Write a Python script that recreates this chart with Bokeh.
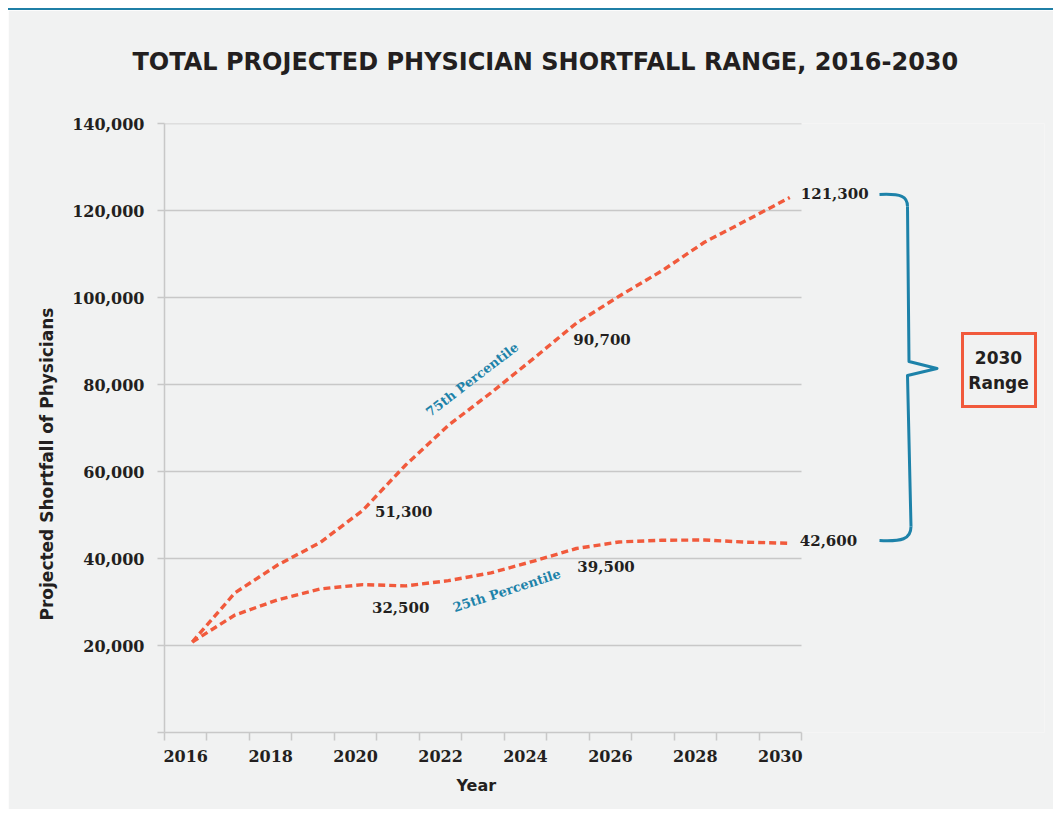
from bokeh.plotting import figure
from bokeh.models import Range1d, FixedTicker, NumeralTickFormatter, Title
from bokeh.embed import file_html
from bokeh.resources import INLINE
from bokeh.core.properties import value
import math

# ---------------- data ----------------
years = list(range(2016, 2031))
pct75 = [20800, 32100, 38500, 43700, 51100, 61500, 70600, 78100, 86000,
         94100, 100300, 106100, 112700, 117800, 123000]
pct25 = [20800, 27000, 30500, 33000, 34000, 33700, 34900, 36700, 39400,
         42300, 43800, 44200, 44250, 43750, 43500]
y_ticks = [0, 20000, 40000, 60000, 80000, 100000, 120000, 140000]
x_label_years = [2016, 2018, 2020, 2022, 2024, 2026, 2028, 2030]
callout_years = [2020, 2020, 2025, 2025, 2030, 2030]
callout_values = [51300, 32500, 90700, 39500, 121300, 42600]
TITLE = "TOTAL PROJECTED PHYSICIAN SHORTFALL RANGE, 2016-2030"
Y_TITLE = "Projected Shortfall of Physicians"
X_TITLE = "Year"

# ---------------- style ----------------
BG = "#f1f2f2"
RED = "#f15a3c"
BLUE = "#1d82a9"
INK = "#231f20"
GRID = "#c8c8c8"
SERIF = value("DejaVu Serif")
SANS = "DejaVu Sans"

W, H = 1045, 801
BL, BT, BR = 156, 113, 9
FRAME_W = W - BL - BR
FRAME_H = 609
BB = H - BT - FRAME_H
PAGE_LEFT, PAGE_TOP = 8, 10      # canvas origin on the page (margin + rule)
FRAME_LEFT_PX = PAGE_LEFT + BL
FRAME_BOTTOM_PX = PAGE_TOP + BT + FRAME_H

X0 = 2015.35
PX_PER_YEAR = 42.68
BAND = 0.995
Y_MAX = 140000


def dx(px):
    return X0 + (px - FRAME_LEFT_PX) / PX_PER_YEAR


def dy(py):
    return (FRAME_BOTTOM_PX - py) * Y_MAX / FRAME_H


p = figure(width=W, height=H, output_backend="svg", toolbar_location=None,
           x_range=Range1d(X0, X0 + FRAME_W / PX_PER_YEAR),
           y_range=Range1d(0, Y_MAX),
           min_border_left=BL, min_border_top=BT, min_border_right=BR,
           min_border_bottom=BB)
p.styles = {"margin-left": "8px", "margin-top": "8px",
            "border-top": "2px solid #1f7fa6"}
p.background_fill_color = BG
p.border_fill_color = BG
p.outline_line_color = None
p.xgrid.grid_line_color = None
p.ygrid.grid_line_color = None

# spacer between the plot area and the title
p.add_layout(Title(text=" ", text_font_size="1px", standoff=14), "above")

# title
p.title.text = TITLE
p.title.align = "left"
p.title.offset = -32
p.title.standoff = 60
p.title.vertical_align = "middle"
p.title.text_font = SANS
p.title.text_font_style = "bold"
p.title.text_font_size = "24px"
p.title.text_color = INK

# x axis: year bands
edges = [X0 + k * BAND for k in range(len(years) + 1)]
centers = [X0 + (y - years[0] + 0.5) * BAND for y in x_label_years]
xa = p.xaxis[0]
xa.ticker = FixedTicker(ticks=centers, minor_ticks=edges)
xa.formatter = NumeralTickFormatter(format="0")
xa.bounds = (edges[0], edges[-1])
xa.axis_line_color = GRID
xa.axis_line_width = 1.5
xa.major_tick_line_color = None
xa.major_tick_out = 0
xa.major_tick_in = 0
xa.minor_tick_line_color = GRID
xa.minor_tick_line_width = 1.5
xa.minor_tick_out = 8
xa.minor_tick_in = 0
xa.major_label_standoff = 9
xa.major_label_text_font = "DejaVu Serif"
xa.major_label_text_font_style = "bold"
xa.major_label_text_font_size = "16px"
xa.major_label_text_color = INK

# x title (as a title below, so it can sit under the year band area)
p.add_layout(Title(text=X_TITLE, align="left", offset=292, standoff=22,
                   vertical_align="top", text_font=SANS,
                   text_font_style="bold", text_font_size="16px",
                   text_color=INK), "below")

# y axis
ya = p.yaxis[0]
ya.ticker = FixedTicker(ticks=y_ticks)
ya.formatter = NumeralTickFormatter(format="0,0")
ya.major_label_overrides = {0: ""}
ya.bounds = (0, Y_MAX)
ya.axis_line_color = GRID
ya.axis_line_width = 1.5
ya.major_tick_line_color = GRID
ya.major_tick_line_width = 1.5
ya.major_tick_out = 7
ya.major_tick_in = 0
ya.minor_tick_line_color = None
ya.major_label_standoff = 13
ya.major_label_text_font = "DejaVu Serif"
ya.major_label_text_font_style = "bold"
ya.major_label_text_font_size = "16px"
ya.major_label_text_color = INK

# y title
p.add_layout(Title(text=Y_TITLE, align="left", offset=112, standoff=26,
                   vertical_align="bottom", text_font=SANS,
                   text_font_style="bold", text_font_size="17px",
                   text_color=INK), "left")

# grid lines limited to the chart area
grid_vals = [v for v in y_ticks if v > 0]
p.segment(x0=[edges[0]] * len(grid_vals), x1=[edges[-1]] * len(grid_vals),
          y0=grid_vals, y1=grid_vals, line_color=GRID, line_width=1.5)

# series
for series in (pct75, pct25):
    p.line(years, series, line_color=RED, line_width=3.4, line_dash="7 4",
           line_cap="butt", line_join="round")

# series names
p.text(x=[dx(471.7)], y=[dy(379)], text=["75th Percentile"],
       angle=math.radians(37.5), text_align="center", text_baseline="middle",
       text_font=SERIF, text_font_style="bold", text_font_size="13px",
       text_color=BLUE)
p.text(x=[dx(506.3)], y=[dy(590)], text=["25th Percentile"],
       angle=math.radians(18), text_align="center", text_baseline="middle",
       text_font=SERIF, text_font_style="bold", text_font_size="13px",
       text_color=BLUE)

# value call-outs
x_offs = [12, 9, -3, 1, 11, 10]
y_offs = [2, 16, 2, 6, -11, -7]
for yr, v, xo, yo in zip(callout_years, callout_values, x_offs, y_offs):
    p.text(x=[yr], y=[v], text=[f"{v:,}"], x_offset=xo, y_offset=yo,
           text_align="left", text_baseline="middle", text_font=SERIF,
           text_font_style="bold", text_font_size="15px", text_color=INK)

# brace
p.bezier(x0=[dx(879)], y0=[dy(194)], x1=[dx(907)], y1=[dy(206)],
         cx0=[dx(901)], cy0=[dy(193)], cx1=[dx(907)], cy1=[dy(196)],
         line_color=BLUE, line_width=3)
p.line([dx(907), dx(908.5), dx(936.5), dx(907), dx(910.5)],
       [dy(206), dy(361), dy(368), dy(375), dy(526)],
       line_color=BLUE, line_width=3, line_join="round")
p.bezier(x0=[dx(910.5)], y0=[dy(526)], x1=[dx(879)], y1=[dy(540)],
         cx0=[dx(910.5)], cy0=[dy(539)], cx1=[dx(901)], cy1=[dy(541)],
         line_color=BLUE, line_width=3)

# 2030 range box
p.quad(left=[dx(962)], right=[dx(1035)], top=[dy(333)], bottom=[dy(406)],
       fill_color=None, line_color=RED, line_width=3, line_join="miter")
p.text(x=[dx(998)] * 2, y=[dy(357), dy(382)], text=["2030", "Range"],
       text_align="center", text_baseline="middle", text_font=value(SANS),
       text_font_style="bold", text_font_size="17px", text_color=INK)

open("out.html", "w").write(file_html(p, INLINE))
